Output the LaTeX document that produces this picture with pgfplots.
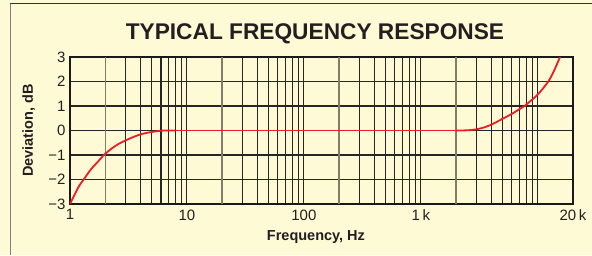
\documentclass[border=0pt]{standalone}
\usepackage{fontspec}
\setmainfont{Liberation Sans}
\usepackage{pgfplots}
\pgfplotsset{compat=1.18}
\definecolor{bgyellow}{RGB}{255,250,214}
\definecolor{curvered}{RGB}{236,28,36}
\definecolor{gridgray}{RGB}{130,125,105}
\definecolor{textdark}{RGB}{35,31,32}
\begin{document}
\begin{tikzpicture}[x=1pt,y=1pt]
\fill[bgyellow] (-70,-51) rectangle (522,204);
\draw[black!80, line width=1.3pt] (-60,200.5) -- (522,200.5);
\draw[black!50, line width=1.8pt] (-59.5,200.5) -- (-59.5,-51);
\begin{axis}[
  at={(0,0)}, anchor=south west,
  width=503pt, height=147pt, scale only axis,
  xmode=log, xmin=1, xmax=20000,
  ymin=-3, ymax=3,
  xtick={1,10,100,1000,20000},
  xticklabels={1,10,100,1\,k,20\,k},
  minor xtick={3,4,5,6,7,8,9,30,40,50,60,70,80,90,300,400,500,600,700,800,900,3000,4000,5000,6000,7000,8000,9000,10000},
  extra x ticks={2,20,200,2000},
  extra x tick labels={,,,},
  extra x tick style={grid=major, major grid style={draw=gridgray, line width=1.3pt}},
  ytick={-3,-2,-1,0,1,2,3},
  yticklabels={−3,−2,−1,0,1,2,3},
  grid=both,
  major grid style={draw=black!85, line width=1.05pt},
  minor grid style={draw=black!85, line width=1.05pt},
  major tick length=0pt, minor tick length=0pt,
  axis line style={draw=black!90, line width=1.8pt},
  tick label style={font=\fontsize{15}{17}\selectfont, text=textdark},
  /pgf/number format/assume math mode=true,
  xticklabel style={yshift=-2pt},
  yticklabel style={xshift=-1pt},
  xlabel={Frequency, Hz},
  ylabel={Deviation, dB},
  xlabel style={font=\fontsize{14.5}{16}\selectfont\bfseries, text=textdark, at={(axis description cs:0.489,-0.245)}, anchor=base},
  ylabel style={font=\fontsize{14.5}{16}\selectfont\bfseries, text=textdark, at={(axis description cs:-0.0736,0.5)}, anchor=base, rotate=0},
  title={TYPICAL FREQUENCY RESPONSE},
  title style={font=\fontsize{22.7}{24}\selectfont\bfseries, text=textdark, at={(axis description cs:0.487,1.0816)}, anchor=base},
]
\addplot[curvered, line width=1.8pt, smooth, tension=0.4] coordinates {
(1,-3.0) (1.1,-2.6) (1.2,-2.25) (1.31,-2.0) (1.5,-1.6) (1.75,-1.25) (1.95,-1.0)
(2.25,-0.75) (2.6,-0.55) (3,-0.4) (3.5,-0.26) (4,-0.16) (4.5,-0.1) (5,-0.06)
(5.5,-0.03) (6,-0.01) (6.5,0) (8,0)
};
\addplot[curvered, line width=1.8pt] coordinates {(8,0) (2000,0)};
\addplot[curvered, line width=1.8pt, smooth, tension=0.4] coordinates {
(2000,0) (2400,0.005) (2700,0.02) (3000,0.05) (3500,0.13) (4000,0.24) (4500,0.36) (5000,0.48)
(5500,0.58) (6000,0.68) (6500,0.78) (7000,0.88) (7700,1.0) (8500,1.17) (9300,1.33) (10000,1.47)
(11000,1.7) (12300,2.0) (13500,2.35) (14500,2.68) (15500,3.0)
};
\end{axis}
\pgfresetboundingbox
\useasboundingbox (-70,-51) rectangle (522,204);
\end{tikzpicture}
\end{document}
